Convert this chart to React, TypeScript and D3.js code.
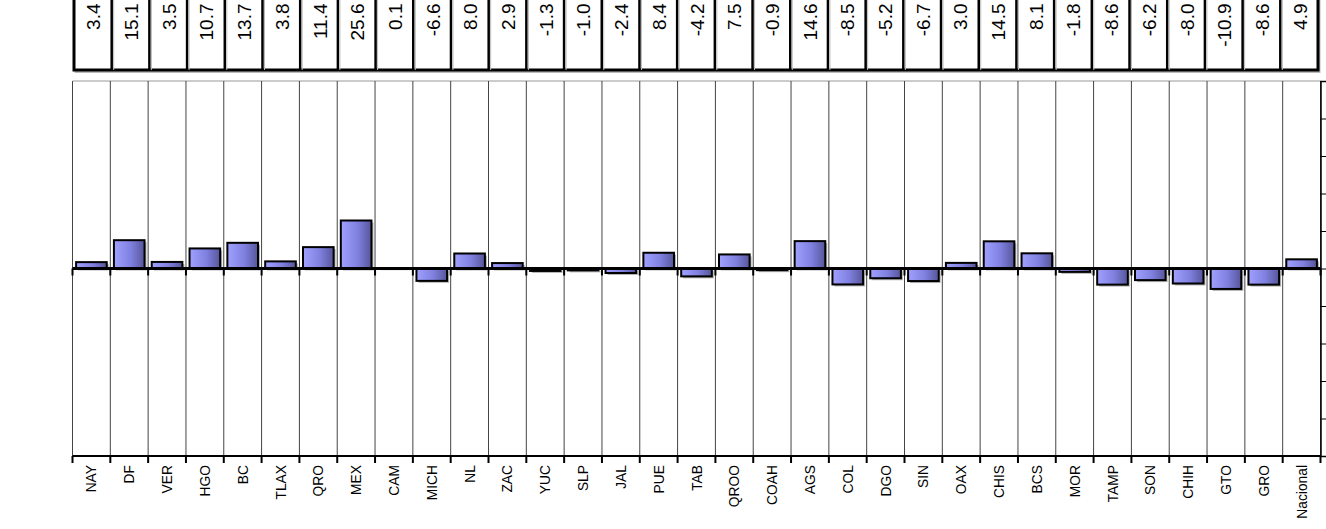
import { useEffect, useRef } from "react"
import * as d3 from "d3"

const states = [
    "NAY", "DF", "VER", "HGO", "BC", "TLAX", "QRO", "MEX", "CAM", "MICH", "NL",
    "ZAC", "YUC", "SLP", "JAL", "PUE", "TAB", "QROO", "COAH", "AGS", "COL", "DGO",
    "SIN", "OAX", "CHIS", "BCS", "MOR", "TAMP", "SON", "CHIH", "GTO", "GRO", "Nacional",
]
const growth = [
    3.4, 15.1, 3.5, 10.7, 13.7, 3.8, 11.4, 25.6, 0.1, -6.6, 8.0,
    2.9, -1.3, -1.0, -2.4, 8.4, -4.2, 7.5, -0.9, 14.6, -8.5, -5.2,
    -6.7, 3.0, 14.5, 8.1, -1.8, -8.6, -6.2, -8.0, -10.9, -8.6, 4.9,
]
const yTicks = [-100, -80, -60, -40, -20, 0, 20, 40, 60, 80, 100]

const font = "Arial, 'Liberation Sans', sans-serif"

export default function App() {
    const svgRef = useRef<SVGSVGElement>(null)
    const width = 1326
    const height = 529

    useEffect(() => {
        const margin = { top: 81, right: 5.5, bottom: 73, left: 72.5 }
        const data = states.map((s, i) => ({ s, v: growth[i] }))

        const xScale = d3.scaleBand<string>()
            .domain(states)
            .range([margin.left, width - margin.right])
            .paddingInner(0.19)
            .paddingOuter(0.095)
        const step = xScale.step()
        const edge = (i: number) => margin.left + i * step

        const yScale = d3.scaleLinear()
            .domain([-100, 100])
            .range([height - margin.bottom, margin.top])

        const svg = d3.select(svgRef.current)
        svg.selectAll("*").remove()

        const defs = svg.append("defs")
        const grad = defs.append("linearGradient")
            .attr("id", "barFill")
            .attr("x1", "0").attr("x2", "1").attr("y1", "0").attr("y2", "0")
        grad.append("stop").attr("offset", "0").attr("stop-color", "#a0a0ff")
        grad.append("stop").attr("offset", "0.55").attr("stop-color", "#8080e0")
        grad.append("stop").attr("offset", "1").attr("stop-color", "#56569a")

        // tabla de valores arriba
        const tScale = d3.scaleBand<string>().domain(states).range([74, 1318])
        const table = svg.append("g")
        table.append("rect")
            .attr("x", 75.5).attr("y", -5)
            .attr("width", 1244).attr("height", 77)
            .attr("fill", "none").attr("stroke", "#bbb").attr("stroke-width", 2)
        table.append("rect")
            .attr("x", 74).attr("y", -5)
            .attr("width", 1244).attr("height", 75)
            .attr("fill", "#fff").attr("stroke", "#000").attr("stroke-width", 3)
        table.selectAll("line.sep")
            .data(states.slice(1))
            .join("line")
            .attr("x1", d => tScale(d)!).attr("x2", d => tScale(d)!)
            .attr("y1", -5).attr("y2", 70)
            .attr("stroke", "#000").attr("stroke-width", 2.5)
        table.selectAll("line.shadow")
            .data(states.slice(1))
            .join("line")
            .attr("x1", d => tScale(d)! + 2).attr("x2", d => tScale(d)! + 2)
            .attr("y1", -5).attr("y2", 70)
            .attr("stroke", "#bbb").attr("stroke-width", 1)
        table.selectAll("text")
            .data(data)
            .join("text")
            .attr("transform", d => `translate(${tScale(d.s)! + tScale.bandwidth() / 2 + 7.5},3.5) rotate(-90)`)
            .attr("text-anchor", "end")
            .style("font-family", font)
            .style("font-size", "19px")
            .text(d => d.v.toFixed(1))

        // rejilla vertical
        const grid = svg.append("g")
        grid.append("line")
            .attr("x1", margin.left).attr("x2", width - margin.right)
            .attr("y1", margin.top).attr("y2", margin.top)
            .attr("stroke", "#999").attr("stroke-width", 1)
        grid.selectAll("line.v")
            .data(d3.range(states.length + 1))
            .join("line")
            .attr("x1", d => edge(d)).attr("x2", d => edge(d))
            .attr("y1", margin.top).attr("y2", height - margin.bottom)
            .attr("stroke", "#444").attr("stroke-width", 1)

        // sombras y barras
        const bars = svg.append("g")
        bars.selectAll("rect.shadow")
            .data(data)
            .join("rect")
            .attr("x", d => xScale(d.s)! + 2)
            .attr("y", d => Math.min(yScale(d.v), yScale(0)) + 2)
            .attr("width", xScale.bandwidth())
            .attr("height", d => Math.abs(yScale(d.v) - yScale(0)))
            .attr("fill", "#b5b5b5")
        bars.selectAll("rect.bar")
            .data(data)
            .join("rect")
            .attr("x", d => xScale(d.s)!)
            .attr("y", d => Math.min(yScale(d.v), yScale(0)))
            .attr("width", xScale.bandwidth())
            .attr("height", d => Math.abs(yScale(d.v) - yScale(0)))
            .attr("fill", "url(#barFill)")
            .attr("stroke", "#000")
            .attr("stroke-width", 2)

        // eje del cero
        const zero = svg.append("g")
        zero.append("line")
            .attr("x1", margin.left).attr("x2", width - margin.right)
            .attr("y1", yScale(0)).attr("y2", yScale(0))
            .attr("stroke", "#000").attr("stroke-width", 3)
        zero.selectAll("line.tick")
            .data(d3.range(states.length + 1))
            .join("line")
            .attr("x1", d => edge(d)).attr("x2", d => edge(d))
            .attr("y1", yScale(0)).attr("y2", yScale(0) + 7)
            .attr("stroke", "#000").attr("stroke-width", 2)

        // eje inferior con etiquetas
        const bottom = svg.append("g")
        bottom.append("line")
            .attr("x1", margin.left).attr("x2", width - margin.right)
            .attr("y1", height - margin.bottom).attr("y2", height - margin.bottom)
            .attr("stroke", "#000").attr("stroke-width", 2)
        bottom.selectAll("line.tick")
            .data(d3.range(states.length + 1))
            .join("line")
            .attr("x1", d => edge(d)).attr("x2", d => edge(d))
            .attr("y1", height - margin.bottom).attr("y2", height - margin.bottom + 7)
            .attr("stroke", "#000").attr("stroke-width", 2)
        bottom.selectAll("text")
            .data(states)
            .join("text")
            .attr("transform", d => `translate(${edge(states.indexOf(d)) + step / 2 + 5},${height - margin.bottom + 9}) rotate(-90)`)
            .attr("text-anchor", "end")
            .style("font-family", font)
            .style("font-size", "13.8px")
            .text(d => d)

        // eje derecho (sin etiquetas visibles)
        svg.append("g")
            .attr("transform", `translate(${width - margin.right},0)`)
            .call(d3.axisRight(yScale).tickValues(yTicks).tickSize(6).tickFormat(() => ""))
            .call(g => g.select(".domain").attr("stroke", "#000").attr("stroke-width", 1.5))
            .call(g => g.selectAll(".tick line").attr("stroke", "#000").attr("stroke-width", 1))
    }, [])

    return (
        <svg
            ref={svgRef}
            width={width}
            height={height}
            style={{ position: "absolute", left: 0, top: 0, background: "#fff" }}
        ></svg>
    )
}
